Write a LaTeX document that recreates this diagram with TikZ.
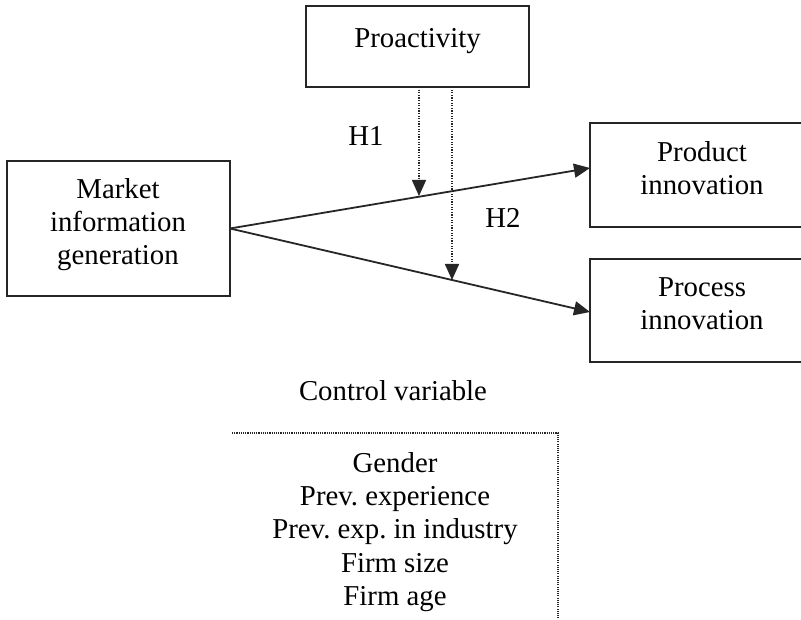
\documentclass[tikz,border=0pt]{standalone}
\usepackage{fontspec}
\setmainfont{Liberation Serif}
\usetikzlibrary{arrows.meta}
\definecolor{linegray}{HTML}{262626}
\frenchspacing
\begin{document}
\begin{tikzpicture}[x=1pt,y=-1pt,
  box/.style={draw=linegray,line width=2pt,inner sep=0pt,outer sep=0pt},
  lbl/.style={anchor=base,inner sep=0pt,outer sep=0pt,font=\fontsize{28.8}{33}\selectfont},
  link/.style={draw=linegray,line width=1.8pt,-{Triangle[length=16pt,width=14pt]}},
  modarrow/.style={draw=linegray,line width=1.6pt,dash pattern=on 1.3pt off 1.3pt,-{Triangle[length=16pt,width=14pt]}},
  dotline/.style={draw=linegray,line width=1.5pt,dash pattern=on 1.1pt off 1.1pt}
]
\clip (0,0) rectangle (801,620);
\fill[white] (0,0) rectangle (801,620);

% boxes
\node[box,minimum width=223pt,minimum height=81pt] (pro) at (417.5,46.5) {};
\node[box,minimum width=223pt,minimum height=135pt] (mig) at (118.5,228.5) {};
\node[box,minimum width=224pt,minimum height=104pt] (prod) at (702,175) {};
\node[box,minimum width=224pt,minimum height=103pt] (proc) at (702,310.5) {};

% texts
\node[lbl] (tpro) at (417.5,48) {Proactivity};
\node[lbl] (tm1) at (118,199) {Market};
\node[lbl] (tm2) at (118,232) {information};
\node[lbl] (tm3) at (118,265) {generation};
\node[lbl] (tp1) at (702,162) {Product};
\node[lbl] (tp2) at (702,195) {innovation};
\node[lbl] (tq1) at (702,297) {Process};
\node[lbl] (tq2) at (702,330) {innovation};
\node[lbl] (h1) at (366,146) {H1};
\node[lbl] (h2) at (503,228) {H2};
\node[lbl] (ctl) at (393,400) {Control variable};
\node[lbl] (c1) at (395,472) {Gender};
\node[lbl] (c2) at (395,505) {Prev. experience};
\node[lbl] (c3) at (395,538) {Prev. exp. in industry};
\node[lbl] (c4) at (395,572) {Firm size};
\node[lbl] (c5) at (395,605) {Firm age};

% main paths
\draw[link] (mig.east) -- ([yshift=7pt]prod.west);
\draw[link] (mig.east) -- ([yshift=-1.5pt]proc.west);

% moderation arrows
\coordinate (m1) at (419,196);
\coordinate (m2) at (452,280);
\draw[modarrow] ([xshift=1.5pt]pro.south) -- (m1);
\draw[modarrow] ([xshift=34.5pt]pro.south) -- (m2);

% control box (top and right sides)
\coordinate (cb1) at (232,433);
\coordinate (cb2) at (558,433);
\coordinate (cb3) at (558,625);
\draw[dotline] (cb1) -- (cb2) -- (cb3);
\end{tikzpicture}
\end{document}
